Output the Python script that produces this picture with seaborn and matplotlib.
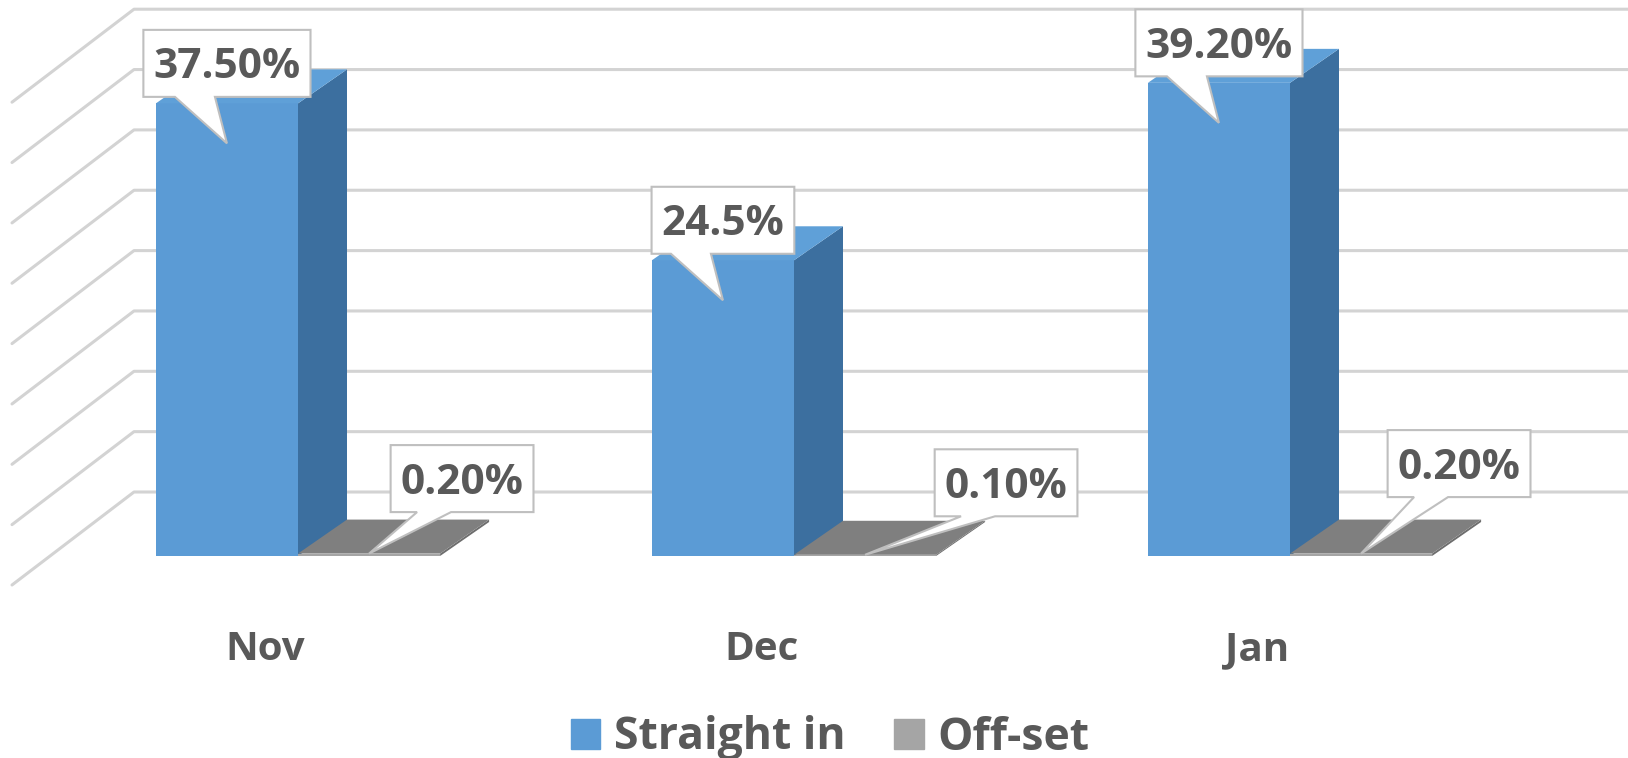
import numpy as np
import pandas as pd
import matplotlib
matplotlib.use("Agg")
import matplotlib.pyplot as plt
import matplotlib.patches as mpatches
from matplotlib.lines import Line2D
from matplotlib.transforms import IdentityTransform
import seaborn as sns

# chart data
months = ["Nov", "Dec", "Jan"]
series = ["Straight in", "Off-set"]
straight_in = [37.5, 24.5, 39.2]
off_set = [0.2, 0.1, 0.2]
straight_labels = ["37.50%", "24.5%", "39.20%"]
offset_labels = ["0.20%", "0.10%", "0.20%"]
grid_values = [0, 5, 10, 15, 20, 25, 30, 35, 40]

df = pd.DataFrame({
    "month": months * 2,
    "series": [series[0]] * 3 + [series[1]] * 3,
    "value": straight_in + off_set,
})

# colours
BLUE, BLUE_SIDE, BLUE_TOP = "#5B9BD5", "#3C6F9F", "#5FA0D8"
GRAY, GRAY_SIDE, GRAY_TOP = "#A5A5A5", "#6E6E6E", "#7F7F7F"
TEXT = "#595959"
GRID = "#D3D3D3"
CALLOUT_EDGE = "#BFBFBF"

sns.set_theme(style="white")
plt.rcParams["font.family"] = ["Open Sans", "DejaVu Sans"]

W, H = 1628, 758
fig = plt.figure(figsize=(W / 100, H / 100), dpi=100)
ax = fig.add_axes([0, 0, 1, 1])

sns.barplot(data=df, x="month", y="value", hue="series", order=months,
            hue_order=series, palette=[BLUE, GRAY], width=0.573, gap=0,
            saturation=1, errorbar=None, linewidth=0, legend=False, ax=ax)

# map the front plane of the 3D box onto the canvas
px_per_unit_x, px_per_pct = 496.0, 12.07
first_center, floor_from_top = 298.0, 556.0
ax.set_xlim(-first_center / px_per_unit_x, (W - first_center) / px_per_unit_x)
ax.set_ylim(-(H - floor_from_top) / px_per_pct, floor_from_top / px_per_pct)
ax.axis("off")

ident = IdentityTransform()


def to_px(x, y):
    return np.array(ax.transData.transform((x, y)))


# back wall + side wall gridlines
wall_back_x, wall_front_x = 134, 12
back_dy, front_dy = 64, -29
for v in grid_values:
    p = to_px(0, v)
    yb = p[1] + back_dy
    yf = p[1] + front_dy
    ax.add_line(Line2D([wall_front_x, wall_back_x, W], [yf, yb, yb],
                       transform=ident, color=GRID, lw=2.2, zorder=0.5))

# 3D faces of the bars
depth = np.array([49.0, 34.0])
bars = []
for p in ax.patches:
    xc = p.get_x() + p.get_width() / 2
    cat = int(round(xc))
    is_blue = xc < cat
    bars.append((p, cat, is_blue))

for p, cat, is_blue in bars:
    z = 2 if is_blue else 3
    p.set_zorder(z)
    x0, x1, h = p.get_x(), p.get_x() + p.get_width(), p.get_height()
    bl, br, tl, tr = to_px(x0, 0), to_px(x1, 0), to_px(x0, h), to_px(x1, h)
    side_c = BLUE_SIDE if is_blue else GRAY_SIDE
    top_c = BLUE_TOP if is_blue else GRAY_TOP
    ax.add_patch(mpatches.Polygon([br, tr, tr + depth, br + depth], closed=True,
                                  transform=ident, fc=side_c, ec="none", zorder=z))
    ax.add_patch(mpatches.Polygon([tl, tr, tr + depth, tl + depth], closed=True,
                                  transform=ident, fc=top_c, ec="none", zorder=z))

# callout data labels
renderer = fig.canvas.get_renderer()
label_fs = 30.5
cap_px = 0.714 * label_fs * 100 / 72
box_h = 67
blue_box_off, blue_tip_off, blue_base = (0, 40), (0, -40), (-52, -12)
gray_box_offs = [(93, 75), (141, 72), (98, 90)]
gray_base = (-45, -11)

for p, cat, is_blue in bars:
    xc = p.get_x() + p.get_width() / 2
    anchor = to_px(xc, p.get_height())
    if is_blue:
        text = straight_labels[cat]
        box_off, tip_off, base = blue_box_off, blue_tip_off, blue_base
    else:
        text = offset_labels[cat]
        box_off, tip_off, base = gray_box_offs[cat], (0, 0), gray_base
    cx, cy = anchor[0] + box_off[0], anchor[1] + box_off[1]
    t = ax.text(cx, cy - cap_px / 2, text, transform=ident, ha="center",
                va="baseline", fontsize=label_fs, fontweight="bold",
                color=TEXT, zorder=11)
    w = t.get_window_extent(renderer).width + 20
    L, R, T, B = cx - w / 2, cx + w / 2, cy + box_h / 2, cy - box_h / 2
    tip = anchor + np.array(tip_off)
    verts = [(L, T), (R, T), (R, B), (cx + base[1], B), tuple(tip),
             (cx + base[0], B), (L, B)]
    ax.add_patch(mpatches.Polygon(verts, closed=True, transform=ident,
                                  fc="white", ec=CALLOUT_EDGE, lw=1.5, zorder=10))

# category labels along the front edge of the floor
for i, m in enumerate(months):
    p = to_px(i, 0)
    ax.text(p[0] - 33, p[1] - 104, m, transform=ident, ha="center",
            va="baseline", fontsize=29, fontweight="bold", color=TEXT)

# legend
handles = [mpatches.Patch(color=BLUE), mpatches.Patch(color=GRAY)]
ax.legend(handles, series, loc="center", bbox_to_anchor=(830 / W, 1 - 738 / H),
          ncol=2, frameon=False, fontsize=32, handlelength=0.67,
          handleheight=0.67, handletextpad=0.3, columnspacing=1.1,
          labelcolor=TEXT, prop={"weight": "bold", "size": 32})

fig.savefig("out.png", dpi=100)
